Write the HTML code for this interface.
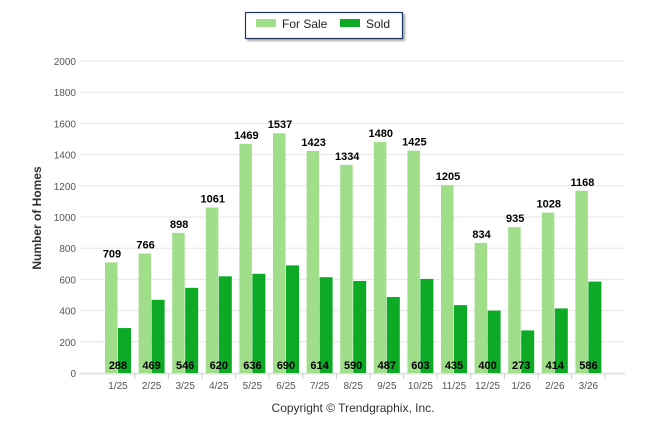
<!DOCTYPE html>
<html><head><meta charset="utf-8"><style>
body{margin:0;background:#fff;font-family:"Liberation Sans",sans-serif}
svg text{font-family:"Liberation Sans",sans-serif}
</style></head><body>
<svg width="646" height="434">
<g>
<rect x="245.5" y="12.5" width="157" height="26" fill="#fff" stroke="#1f3864" stroke-width="1.2" style="filter:drop-shadow(2px 2px 1px #aaa)"/>
<rect x="256" y="19" width="20" height="8" fill="#a0de8a"/>
<text x="282" y="28" font-size="12" fill="#222">For Sale</text>
<rect x="340" y="19" width="20" height="8" fill="#0caa25"/>
<text x="366" y="28" font-size="12" fill="#222">Sold</text>
</g>
<g id="grid"></g>
<g id="bars"></g>
<text transform="translate(41,218) rotate(-90)" text-anchor="middle" font-size="12" font-weight="bold" fill="#333">Number of Homes</text>
<text x="353" y="412" text-anchor="middle" font-size="12" fill="#333">Copyright © Trendgraphix, Inc.</text>
</svg>
<script>
const categories=["1/25","2/25","3/25","4/25","5/25","6/25","7/25","8/25","9/25","10/25","11/25","12/25","1/26","2/26","3/26"];
const forSale=[709,766,898,1061,1469,1537,1423,1334,1480,1425,1205,834,935,1028,1168];
const sold=[288,469,546,620,636,690,614,590,487,603,435,400,273,414,586];
const yTicks=[0,200,400,600,800,1000,1200,1400,1600,1800,2000];
const NS="http://www.w3.org/2000/svg";
const y=v=>373-v*312/2000;
const cx=i=>118+i*33.6;
function mk(t,a,p){const e=document.createElementNS(NS,t);for(const k in a)e.setAttribute(k,a[k]);p.appendChild(e);return e;}
const g=document.getElementById('grid'),b=document.getElementById('bars');
yTicks.forEach(v=>{
 const l=mk('line',{x1:80,x2:625,y1:y(v),y2:y(v),stroke:'#e6e6e6'},g);
 
 
 const t=mk('text',{x:76,y:y(v)+4,'text-anchor':'end','font-size':10,fill:'#555'},g);t.textContent=v;
 
 
});
mk('line',{x1:80,x2:625,y1:374,y2:374,stroke:'#ddd'},g);
categories.forEach((c,i)=>{
 const x=cx(i);
 const tk=mk('line',{x1:x+16.8,x2:x+16.8,y1:374,y2:379,stroke:'#ccc'},g);
 const t=mk('text',{x:x,y:389,'text-anchor':'middle','font-size':10,fill:'#555'},g);t.textContent=c;
 
 
 const r1=mk('rect',{x:x-13,y:y(forSale[i]),width:12.5,height:373-y(forSale[i]),fill:'#a0de8a'},b);
 
 
 const r2=mk('rect',{x:x,y:y(sold[i]),width:13,height:373-y(sold[i]),fill:'#0caa25'},b);
 
 
 const l1=mk('text',{x:x-6,y:y(forSale[i])-5,'text-anchor':'middle','font-size':11,'font-weight':'bold',fill:'#000'},b);l1.textContent=forSale[i];
 
 
 const l2=mk('text',{x:x,y:369,'text-anchor':'middle','font-size':11,'font-weight':'bold',fill:'#000'},b);l2.textContent=sold[i];
 
 
});
</script>
</body></html>
